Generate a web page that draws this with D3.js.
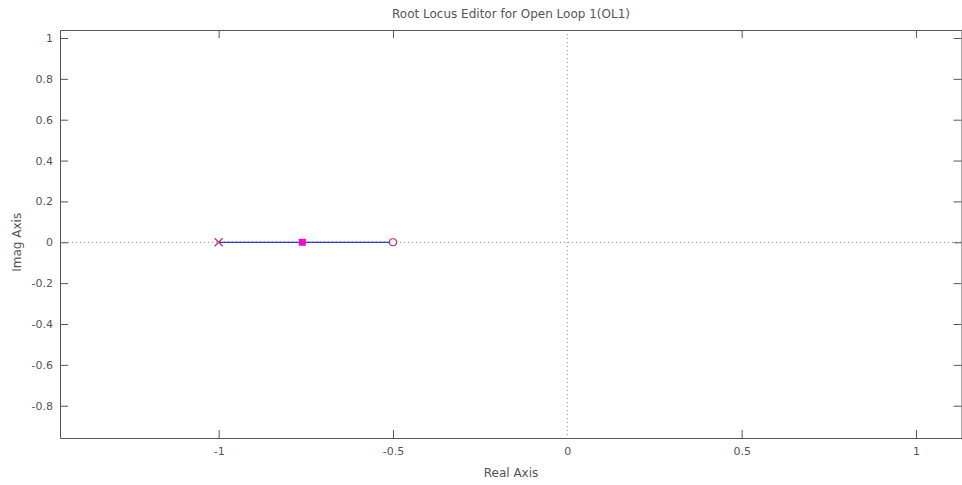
<!DOCTYPE html>
<html><head><meta charset="utf-8">
<script src="https://cdn.jsdelivr.net/npm/d3@7"></script>
<style>body{margin:0;background:#fff;} text{font-family:"DejaVu Sans",sans-serif;}</style>
</head><body><svg id="c" width="962" height="485"></svg>
<script>
const title = "Root Locus Editor for Open Loop 1(OL1)";
const xLabel = "Real Axis";
const yLabel = "Imag Axis";
const xDomain = [-1.455, 1.132];
const yDomain = [-0.958, 1.039];
const xTicks = [-1, -0.5, 0, 0.5, 1];
const yTicks = [1, 0.8, 0.6, 0.4, 0.2, 0, -0.2, -0.4, -0.6, -0.8];
const locusBranch = [[-1, 0], [-0.5, 0]];
const poles = [[-1, 0]];
const zeros = [[-0.5, 0]];
const closedLoopPoles = [[-0.76, 0]];

const svg = d3.select("#c");
const L = 60, R = 962, T = 30, B = 438;
const x = d3.scaleLinear().domain(xDomain).range([L, R]);
const y = d3.scaleLinear().domain(yDomain).range([B, T]);
const axisCol = "#555";
const txtCol = "#555";

// dotted zero lines
svg.append("line").attr("x1", x(0)).attr("x2", x(0)).attr("y1", T).attr("y2", B)
  .attr("stroke", "#888").attr("stroke-dasharray", "1,3");
svg.append("line").attr("x1", L).attr("x2", R).attr("y1", y(0)).attr("y2", y(0))
  .attr("stroke", "#888").attr("stroke-dasharray", "1,3");

// axes with inward ticks
const fmt = d => String(d);
const ax = svg.append("g").attr("transform", `translate(0,${B})`)
  .call(d3.axisBottom(x).tickValues(xTicks).tickSizeInner(-8).tickSizeOuter(0).tickPadding(9).tickFormat(fmt));
const axT = svg.append("g").attr("transform", `translate(0,${T})`)
  .call(d3.axisTop(x).tickValues(xTicks).tickSizeInner(-8).tickSizeOuter(0).tickFormat(""));
const ay = svg.append("g").attr("transform", `translate(${L},0)`)
  .call(d3.axisLeft(y).tickValues(yTicks).tickSizeInner(-8).tickSizeOuter(0).tickPadding(7).tickFormat(fmt));
const ayR = svg.append("g").attr("transform", `translate(${R-0.5},0)`)
  .call(d3.axisRight(y).tickValues(yTicks).tickSizeInner(-8).tickSizeOuter(0).tickFormat(""));
[ax, axT, ay, ayR].forEach(g => {
  g.selectAll("path").attr("stroke", axisCol);
  g.selectAll("line").attr("stroke", axisCol);
  g.selectAll("text").attr("fill", txtCol).style("font-size", "11px")
    .style("font-family", "'DejaVu Sans',sans-serif");
});
// hide tick at 0 on top/bottom (dotted line there)
ax.selectAll(".tick").filter(d => d === 0).select("line").attr("stroke", "none");
axT.selectAll(".tick").filter(d => d === 0).select("line").attr("stroke", "none");

// locus branch
svg.append("path").datum(locusBranch)
  .attr("d", d3.line().x(d => x(d[0])).y(d => y(d[1])))
  .attr("stroke", "#0000cc").attr("stroke-width", 1.2).attr("fill", "none");

// poles (x)
poles.forEach(p => {
  const cx = x(p[0]), cy = y(p[1]), s = 4;
  svg.append("path").attr("d", `M${cx-s},${cy-s}L${cx+s},${cy+s}M${cx-s},${cy+s}L${cx+s},${cy-s}`)
    .attr("stroke", "#c03070").attr("stroke-width", 1.2).attr("fill", "none");
});
// zeros (o)
zeros.forEach(p => {
  svg.append("circle").attr("cx", x(p[0])).attr("cy", y(p[1])).attr("r", 3.5)
    .attr("fill", "#fff").attr("stroke", "#c03070").attr("stroke-width", 1.2);
});
// closed loop poles (square)
closedLoopPoles.forEach(p => {
  svg.append("rect").attr("x", x(p[0]) - 3.5).attr("y", y(p[1]) - 3.5)
    .attr("width", 7).attr("height", 7).attr("fill", "#ff00cc");
});

// texts
svg.append("text").attr("x", 511).attr("y", 18).attr("text-anchor", "middle")
  .attr("fill", txtCol).style("font-size", "12px").text(title);
svg.append("text").attr("x", 511).attr("y", 477).attr("text-anchor", "middle")
  .attr("fill", txtCol).style("font-size", "12px").text(xLabel);
svg.append("text").attr("transform", `translate(21,${y(0)}) rotate(-90)`).attr("text-anchor", "middle")
  .attr("fill", txtCol).style("font-size", "12px").text(yLabel);
</script></body></html>
